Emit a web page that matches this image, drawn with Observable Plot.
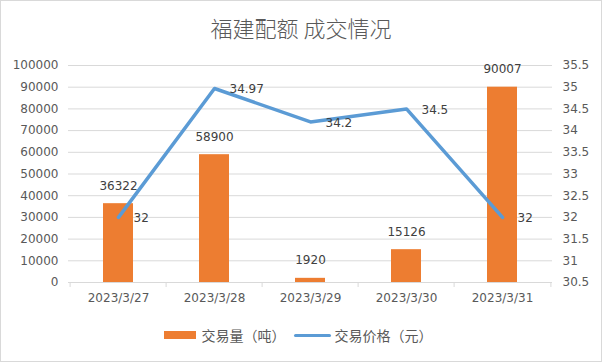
<!DOCTYPE html>
<html><head><meta charset="utf-8">
<script src="https://cdn.jsdelivr.net/npm/d3@7"></script>
<script src="https://cdn.jsdelivr.net/npm/@observablehq/plot@0.6"></script>
<style>
body{margin:0;background:#fff;}
#chart{width:600px;height:360px;border:1px solid #d9d9d9;overflow:hidden;font-family:"Noto Sans CJK SC",sans-serif;background:#fff;}
#title{height:52px;line-height:52px;text-align:center;font-size:22px;font-weight:300;color:#595959;}
#plot svg{display:block;}
#legend{display:flex;justify-content:center;align-items:center;height:34px;font-size:14px;color:#595959;padding-right:6px;}
.sw-bar{width:32px;height:8px;background:#ed7d31;margin-right:6px;}
.sw-line{width:37px;height:3px;background:#5b9bd5;margin-left:8px;margin-right:4px;border-radius:2px;}
</style>
</head><body>
<div id="chart">
  <div id="title">福建配额 成交情况</div>
  <div id="plot"></div>
  <div id="legend"><div class="sw-bar"></div><span>交易量（吨）</span><div class="sw-line"></div><span>交易价格（元）</span></div>
</div>
<script>
const dates = ["2023/3/27", "2023/3/28", "2023/3/29", "2023/3/30", "2023/3/31"];
const volumes = [36322, 58900, 1920, 15126, 90007];
const prices = [32, 34.97, 34.2, 34.5, 32];
const volumeTicks = [0, 10000, 20000, 30000, 40000, 50000, 60000, 70000, 80000, 90000, 100000];
const priceTicks = [30.5, 31, 31.5, 32, 32.5, 33, 33.5, 34, 34.5, 35, 35.5];

const volMin = volumeTicks[0], volMax = volumeTicks[volumeTicks.length - 1];
const pMin = priceTicks[0], pMax = priceTicks[priceTicks.length - 1];
const toY = p => volMin + (p - pMin) / (pMax - pMin) * (volMax - volMin);
const fromY = v => pMin + (v - volMin) / (volMax - volMin) * (pMax - pMin);

const data = dates.map((d, i) => ({date: d, volume: volumes[i], price: prices[i], py: toY(prices[i])}));

const W = 600, mL = 67, mR = 49;
const half = (W - mL - mR) / dates.length / 2;

const chart = Plot.plot({
  width: W, height: 265,
  marginTop: 12, marginBottom: 36, marginLeft: mL, marginRight: mR,
  style: {fontFamily: "DejaVu Sans", fontSize: "12px", color: "#595959", background: "transparent"},
  x: {domain: dates, paddingInner: 0.69, paddingOuter: 0.345, align: 0.5},
  y: {domain: [volMin, volMax]},
  marks: [
    Plot.ruleY(volumeTicks, {stroke: "#d9d9d9", strokeWidth: 1}),
    Plot.ruleX(dates, {x: d => d, dx: -half, y1: 0, y2: 0, insetBottom: -5, stroke: "#d9d9d9"}),
    Plot.ruleX(dates.slice(-1), {x: d => d, dx: half, y1: 0, y2: 0, insetBottom: -5, stroke: "#d9d9d9"}),
    Plot.barY(data, {x: "date", y: "volume", fill: "#ed7d31"}),
    Plot.lineY(data, {x: "date", y: "py", stroke: "#5b9bd5", strokeWidth: 3.5}),
    Plot.text(data, {x: "date", y: "volume", text: d => String(d.volume), dy: -18, fill: "#404040"}),
    Plot.text(data, {x: "date", y: "py", text: d => String(d.price), textAnchor: "start", dx: 15, dy: 1, fill: "#404040"}),
    Plot.axisX({tickSize: 0, tickPadding: 11, label: null}),
    Plot.axisY({anchor: "left", ticks: volumeTicks, tickSize: 0, tickPadding: 10, label: null, tickFormat: d3.format("d")}),
    Plot.axisY({anchor: "right", ticks: priceTicks.map(toY), tickSize: 0, tickPadding: 10, label: null,
      tickFormat: v => String(+fromY(v).toFixed(2))})
  ]
});
document.getElementById("plot").appendChild(chart);
</script>
</body></html>
